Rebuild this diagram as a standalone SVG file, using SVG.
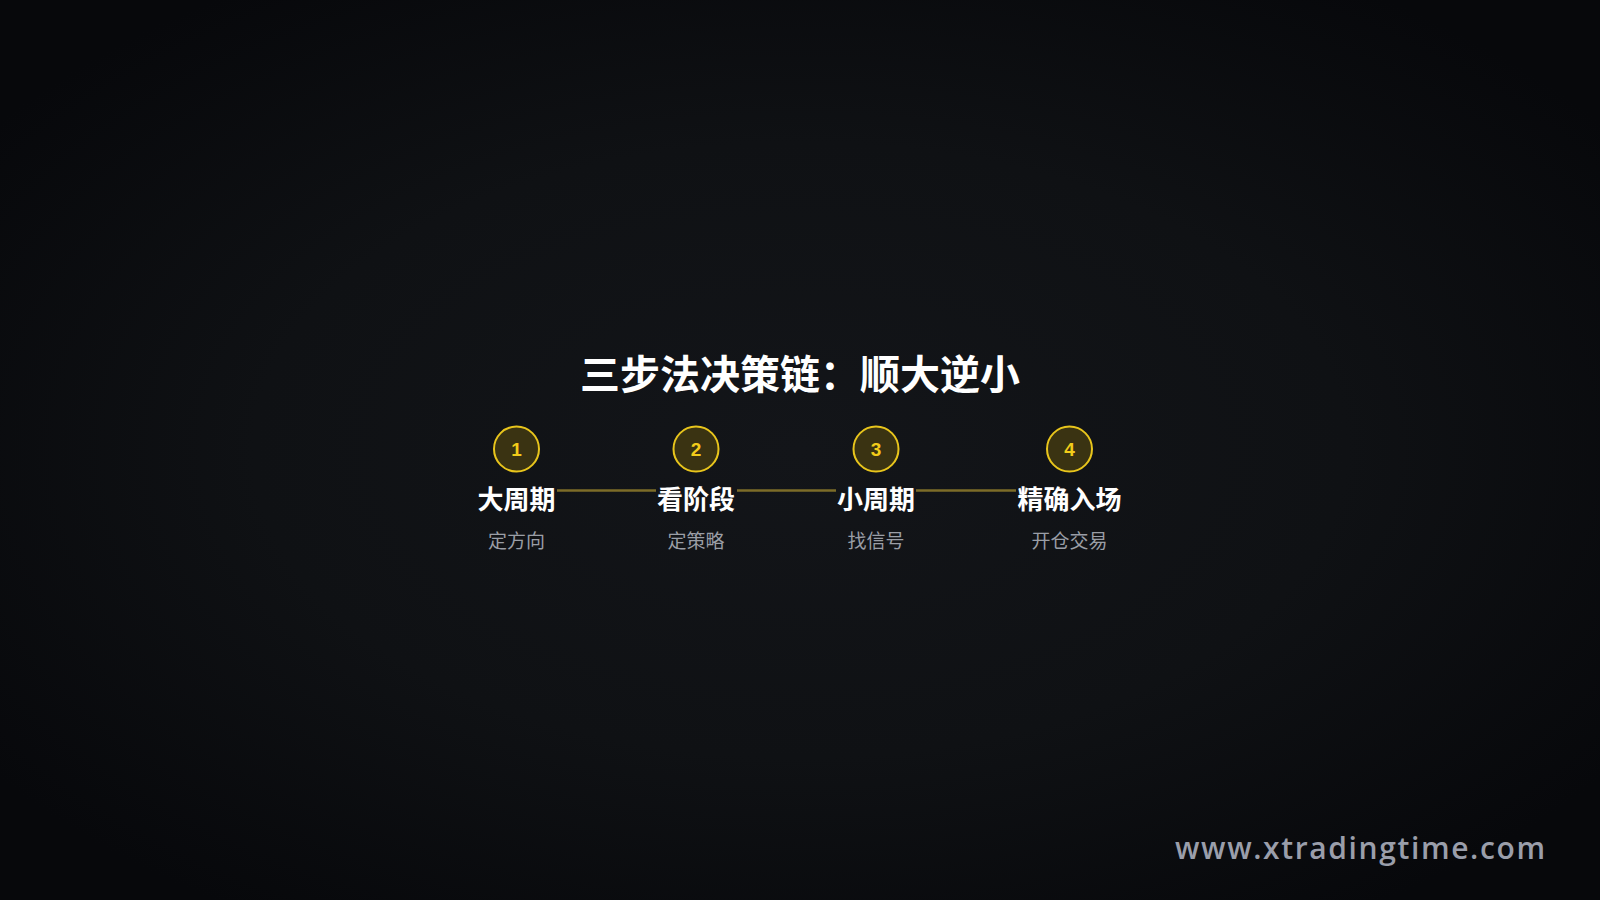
<svg xmlns="http://www.w3.org/2000/svg" width="1600" height="900" viewBox="0 0 1600 900">
<defs>
<radialGradient id="bg" cx="50%" cy="50%" r="62%">
<stop offset="0" stop-color="#131519"/>
<stop offset="0.55" stop-color="#0f1114"/>
<stop offset="1" stop-color="#07080b"/>
</radialGradient>
<style>
.cjk{font-family:"Noto Sans CJK SC","Noto Sans",sans-serif}
.title{font-size:40px;font-weight:700;fill:#ffffff;text-anchor:middle}
.num{font-family:"Liberation Sans",Arial,sans-serif;font-size:19px;font-weight:700;fill:#f2cc1a;text-anchor:middle}
.circ{fill:#3a3312;stroke:#e8c51c;stroke-width:2}
.lab{font-size:26px;font-weight:700;fill:#ffffff;text-anchor:middle}
.sub{font-size:19px;font-weight:400;fill:#9a9ea6;text-anchor:middle}
.con{stroke:#7d6c28;stroke-width:2.5;fill:none}
.wm{font-family:"Open Sans","Liberation Sans",Arial,sans-serif;font-size:30px;font-weight:600;fill:#9a9eaa}
</style>
</defs>
<rect width="1600" height="900" fill="url(#bg)"/>
<text class="cjk title" x="800" y="389">三步法决策链：顺大逆小</text>
<g id="connectors">
<line class="con" x1="557" y1="490.5" x2="656" y2="490.5"/>
<line class="con" x1="737" y1="490.5" x2="836" y2="490.5"/>
<line class="con" x1="916" y1="490.5" x2="1016" y2="490.5"/>
</g>
<g id="step1">
<circle class="circ" cx="516.5" cy="449" r="22.5"/>
<text class="num" x="516.5" y="456">1</text>
<text class="cjk lab" x="516.5" y="509">大周期</text>
<text class="cjk sub" x="516.5" y="548">定方向</text>
</g>
<g id="step2">
<circle class="circ" cx="696" cy="449" r="22.5"/>
<text class="num" x="696" y="456">2</text>
<text class="cjk lab" x="696" y="509">看阶段</text>
<text class="cjk sub" x="696" y="548">定策略</text>
</g>
<g id="step3">
<circle class="circ" cx="876" cy="449" r="22.5"/>
<text class="num" x="876" y="456">3</text>
<text class="cjk lab" x="876" y="509">小周期</text>
<text class="cjk sub" x="876" y="548">找信号</text>
</g>
<g id="step4">
<circle class="circ" cx="1069.5" cy="449" r="22.5"/>
<text class="num" x="1069.5" y="456">4</text>
<text class="cjk lab" x="1069.5" y="509">精确入场</text>
<text class="cjk sub" x="1069.5" y="548">开仓交易</text>
</g>
<text class="wm" x="1175" y="859" textLength="370" lengthAdjust="spacing">www.xtradingtime.com</text>
</svg>
